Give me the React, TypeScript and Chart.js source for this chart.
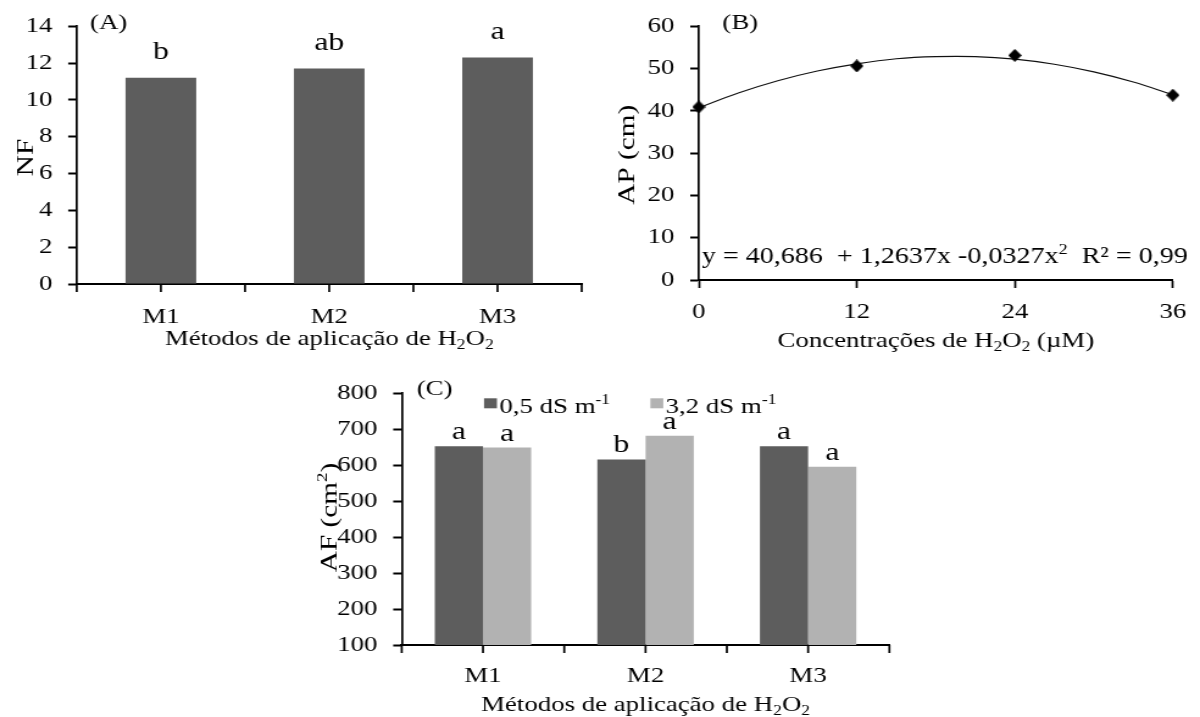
import React, { useEffect, useRef } from "react";
import { Chart, registerables } from "chart.js";
Chart.register(...registerables);

// ---------- data ----------
const methods = ["M1", "M2", "M3"];
const nfValues = [11.2, 11.7, 12.3];
const nfLetters = ["b", "ab", "a"];
const nfTicks = [0, 2, 4, 6, 8, 10, 12, 14];

const concentrations = [0, 12, 24, 36];
const apValues = [40.9, 50.6, 53.1, 43.7];
const trendX = [0, 3, 6, 9, 12, 15, 18, 21, 24, 27, 30, 33, 36];
const trendY = [40.7, 44.2, 47.1, 49.4, 51.1, 52.3, 52.8, 52.8, 52.2, 51.0, 49.2, 46.8, 43.8];
const apTicks = [0, 10, 20, 30, 40, 50, 60];

const salinityLabels = ["0,5 dS m", "3,2 dS m"];
const salinitySup = "-1";
const afLow = [653, 616, 653];
const afHigh = [649, 682, 596];
const afLowLetters = ["a", "b", "a"];
const afHighLetters = ["a", "a", "a"];
const afTicks = [100, 200, 300, 400, 500, 600, 700, 800];

// ---------- style ----------
const FAMILY = '"Liberation Serif", "Times New Roman", serif';
const DARK = "#5d5d5d";
const LIGHT = "#b2b2b2";
const INK = "#000";
const CW = 492;
const SX = 600 / CW;

type Part = { t: string; sub?: boolean; sup?: boolean };

function drawRich(ctx: CanvasRenderingContext2D, parts: Part[], x: number, y: number, size: number, align: "left" | "center") {
  const sizes = parts.map((p) => (p.sub || p.sup ? size * 0.65 : size));
  const widths = parts.map((p, i) => {
    ctx.font = `${sizes[i]}px ${FAMILY}`;
    return ctx.measureText(p.t).width;
  });
  const total = widths.reduce((a, b) => a + b, 0);
  let cx = align === "center" ? x - total / 2 : x;
  ctx.textAlign = "left";
  ctx.textBaseline = "alphabetic";
  parts.forEach((p, i) => {
    ctx.font = `${sizes[i]}px ${FAMILY}`;
    const dy = p.sub ? size * 0.2 : p.sup ? -size * 0.38 : 0;
    ctx.fillText(p.t, cx, y + dy);
    cx += widths[i];
  });
}

// rotated axis title: elongated along its writing direction like the horizontal texts
function drawRotated(ctx: CanvasRenderingContext2D, parts: Part[], bx: number, cy: number, size: number) {
  ctx.save();
  ctx.translate(bx, cy);
  ctx.rotate(-Math.PI / 2);
  ctx.scale(SX, 1 / SX);
  drawRich(ctx, parts, 0, 0, size, "center");
  ctx.restore();
}

function drawCatTicks(chart: any) {
  const { ctx, chartArea: ca, scales } = chart;
  const x = scales.x;
  const n = x.ticks.length;
  const step = (x.right - x.left) / n;
  ctx.strokeStyle = INK;
  ctx.lineWidth = 1.7;
  const tick = (px: number) => {
    ctx.beginPath();
    ctx.moveTo(px, ca.bottom);
    ctx.lineTo(px, ca.bottom + 8);
    ctx.stroke();
  };
  for (let i = 0; i <= n; i++) tick(x.left + i * step);
  for (let i = 0; i < n; i++) tick(x.getPixelForValue(i));
}

function yScale(ticks: number[], width: number) {
  return {
    min: ticks[0],
    max: ticks[ticks.length - 1],
    afterBuildTicks: (s: any) => {
      s.ticks = ticks.map((v) => ({ value: v }));
    },
    afterFit: (s: any) => {
      s.width = width;
    },
    grid: { drawOnChartArea: false, drawTicks: true, tickLength: 7, tickWidth: 2, tickColor: INK },
    border: { display: true, color: INK, width: 1.7 },
    ticks: { color: INK, font: { family: FAMILY, size: 22 }, padding: 13 },
  };
}

function catX(height: number, padding: number) {
  return {
    type: "category",
    offset: true,
    afterFit: (s: any) => {
      s.height = height;
    },
    grid: { display: false, drawTicks: false },
    border: { display: true, color: INK, width: 2 },
    ticks: { color: INK, font: { family: FAMILY, size: 22 }, padding, maxRotation: 0, autoSkip: false },
  };
}

const baseOptions = {
  responsive: false,
  animation: false as const,
  devicePixelRatio: 1,
  events: [] as any[],
  plugins: { legend: { display: false }, tooltip: { enabled: false }, title: { display: false } },
};

// ---------- panel A ----------
function configA(): any {
  const plugin = {
    id: "panelA",
    afterDraw(chart: any) {
      const { ctx, chartArea: ca } = chart;
      ctx.save();
      drawCatTicks(chart);
      ctx.fillStyle = INK;
      const meta = chart.getDatasetMeta(0);
      ctx.font = `26px ${FAMILY}`;
      ctx.textAlign = "center";
      ctx.textBaseline = "alphabetic";
      meta.data.forEach((el: any, i: number) => ctx.fillText(nfLetters[i], el.x, el.y - 19));
      drawRich(ctx, [{ t: "(A)" }], ca.left + 10.9, 29.4, 22, "left");
      drawRotated(ctx, [{ t: "NF" }], 26.7, 157.5, 24);
      drawRich(
        ctx,
        [{ t: "Métodos de aplicação de H" }, { t: "2", sub: true }, { t: "O" }, { t: "2", sub: true }],
        (ca.left + ca.right) / 2,
        345,
        22,
        "center"
      );
      ctx.restore();
    },
  };
  return {
    type: "bar",
    data: {
      labels: methods,
      datasets: [{ data: nfValues, backgroundColor: DARK, borderWidth: 0, barPercentage: 0.42, categoryPercentage: 1 }],
    },
    options: {
      ...baseOptions,
      layout: { padding: { top: 25, right: 15, left: 0, bottom: 0 } },
      scales: { x: catX(76, 20.3), y: yScale(nfTicks, 62.9) },
    },
    plugins: [plugin],
  };
}

// ---------- panel B ----------
function diamondMarker() {
  const c = document.createElement("canvas");
  c.width = 11;
  c.height = 13;
  const g = c.getContext("2d")!;
  g.fillStyle = INK;
  g.beginPath();
  g.moveTo(5.5, 0);
  g.lineTo(11, 6.5);
  g.lineTo(5.5, 13);
  g.lineTo(0, 6.5);
  g.closePath();
  g.fill();
  return c;
}

function configB(): any {
  const plugin = {
    id: "panelB",
    afterDraw(chart: any) {
      const { ctx, chartArea: ca } = chart;
      ctx.save();
      ctx.fillStyle = INK;
      drawRich(ctx, [{ t: "(B)" }], ca.left + 19.3, 29.4, 22, "left");
      drawRotated(ctx, [{ t: "AP (cm)" }], 27.9, 154.7, 24);
      drawRich(
        ctx,
        [{ t: "Concentrações de H" }, { t: "2", sub: true }, { t: "O" }, { t: "2", sub: true }, { t: " (µM)" }],
        (ca.left + ca.right) / 2,
        346.5,
        22,
        "center"
      );
      drawRich(
        ctx,
        [{ t: "y = 40,686  + 1,2637x -0,0327x" }, { t: "2", sup: true }, { t: "  R² = 0,99" }],
        ca.left + 2.6,
        262.5,
        23,
        "left"
      );
      ctx.restore();
    },
  };
  return {
    type: "scatter",
    data: {
      datasets: [
        {
          type: "scatter",
          data: concentrations.map((x, i) => ({ x, y: apValues[i] })),
          pointStyle: diamondMarker(),
          pointRadius: 6,
          backgroundColor: INK,
          borderColor: INK,
          borderWidth: 0,
          clip: false,
          order: 0,
        },
        {
          type: "line",
          data: trendX.map((x, i) => ({ x, y: trendY[i] })),
          borderColor: "#111",
          borderWidth: 1.2,
          pointRadius: 0,
          tension: 0.4,
          fill: false,
          order: 1,
        },
      ],
    },
    options: {
      ...baseOptions,
      layout: { padding: { top: 26, right: 18.6, left: 0, bottom: 0 } },
      scales: {
        x: {
          type: "linear",
          min: concentrations[0],
          max: concentrations[concentrations.length - 1],
          afterBuildTicks: (s: any) => {
            s.ticks = concentrations.map((v) => ({ value: v }));
          },
          afterFit: (s: any) => {
            s.height = 80;
          },
          grid: { drawOnChartArea: false, drawTicks: true, tickLength: 8, tickWidth: 1.7, tickColor: INK },
          border: { display: true, color: INK, width: 2 },
          ticks: { color: INK, font: { family: FAMILY, size: 22 }, padding: 11.3, maxRotation: 0, autoSkip: false },
        },
        y: yScale(apTicks, 81.0),
      },
    },
    plugins: [plugin],
  };
}

// ---------- panel C ----------
function configC(): any {
  const plugin = {
    id: "panelC",
    afterDraw(chart: any) {
      const { ctx, chartArea: ca } = chart;
      ctx.save();
      drawCatTicks(chart);
      ctx.fillStyle = INK;
      ctx.font = `26px ${FAMILY}`;
      ctx.textAlign = "center";
      ctx.textBaseline = "alphabetic";
      const letters = [afLowLetters, afHighLetters];
      [0, 1].forEach((d) => {
        chart.getDatasetMeta(d).data.forEach((el: any, i: number) => ctx.fillText(letters[d][i], el.x, el.y - 7));
      });
      drawRich(ctx, [{ t: "(C)" }], ca.left + 12.3, 34.5, 22, "left");
      // legend
      const legendX = [150.9, 287.3];
      const colors = [DARK, LIGHT];
      salinityLabels.forEach((lab, i) => {
        ctx.fillStyle = colors[i];
        ctx.fillRect(legendX[i], 38.3, 10.6, 10);
        ctx.fillStyle = INK;
        drawRich(ctx, [{ t: lab }, { t: salinitySup, sup: true }], legendX[i] + 12.5, 52.7, 22, "left");
      });
      drawRotated(ctx, [{ t: "AF (cm" }, { t: "2", sup: true }, { t: ")" }], 29.5, 157.5, 24);
      drawRich(
        ctx,
        [{ t: "Métodos de aplicação de H" }, { t: "2", sub: true }, { t: "O" }, { t: "2", sub: true }],
        (ca.left + ca.right) / 2,
        351,
        22,
        "center"
      );
      ctx.restore();
    },
  };
  return {
    type: "bar",
    data: {
      labels: methods,
      datasets: [
        { label: salinityLabels[0], data: afLow, backgroundColor: DARK, borderWidth: 0, barPercentage: 1, categoryPercentage: 0.593 },
        { label: salinityLabels[1], data: afHigh, backgroundColor: LIGHT, borderWidth: 0, barPercentage: 1, categoryPercentage: 0.593 },
      ],
    },
    options: {
      ...baseOptions,
      layout: { padding: { top: 33.3, right: 8.7, left: 0, bottom: 0 } },
      scales: { x: catX(72, 17.6), y: yScale(afTicks, 83.4) },
    },
    plugins: [plugin],
  };
}

function Panel({ left, top, height, make }: { left: number; top: number; height: number; make: () => any }) {
  const ref = useRef<HTMLCanvasElement | null>(null);
  useEffect(() => {
    if (!ref.current) return;
    const chart = new Chart(ref.current, make());
    return () => chart.destroy();
  }, []);
  return (
    <canvas
      ref={ref}
      width={CW}
      height={height}
      style={{
        position: "absolute",
        left,
        top,
        width: `${CW}px`,
        height: `${height}px`,
        transform: `scaleX(${SX})`,
        transformOrigin: "0 0",
      }}
    />
  );
}

export default function App() {
  return (
    <div style={{ position: "absolute", left: 0, top: 0, width: 1200, height: 717, background: "#fff", overflow: "hidden" }}>
      <Panel left={0} top={0} height={360} make={configA} />
      <Panel left={600} top={0} height={360} make={configB} />
      <Panel left={300} top={360} height={357} make={configC} />
    </div>
  );
}
